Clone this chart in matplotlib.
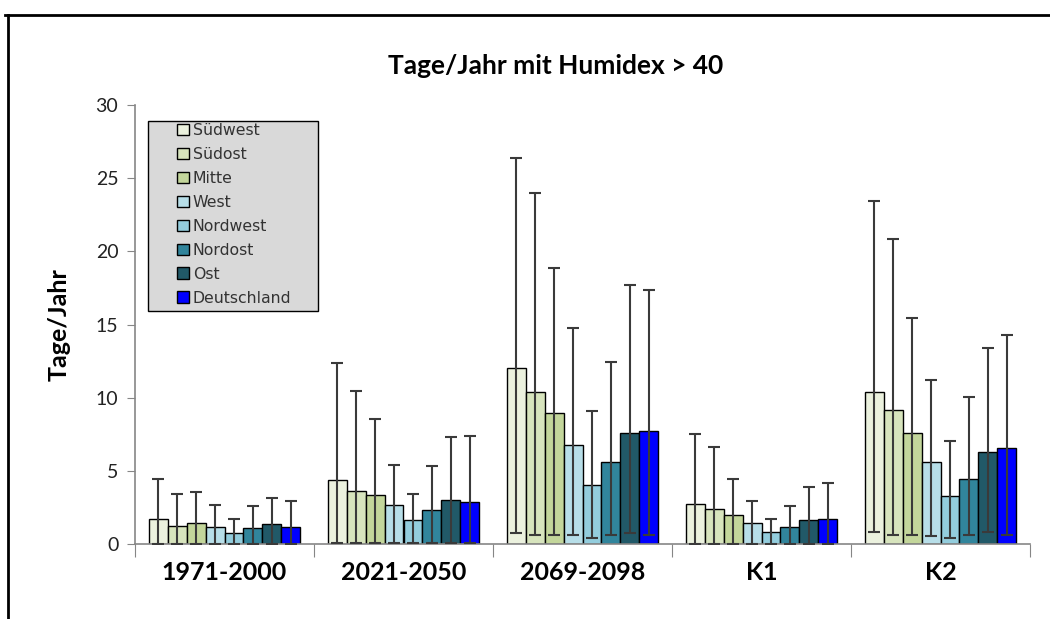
import numpy as np
import matplotlib
matplotlib.use("Agg")
import matplotlib.pyplot as plt
from matplotlib.lines import Line2D
from matplotlib.patches import Rectangle

plt.rcParams['font.family'] = ['Lato', 'DejaVu Sans']

# data
periods = ["1971-2000", "2021-2050", "2069-2098", "K1", "K2"]
regions = ["Südwest", "Südost", "Mitte", "West", "Nordwest", "Nordost", "Ost", "Deutschland"]

# mean days per year, one list per region (over periods)
suedwest = [1.69, 4.35, 12.03, 2.71, 10.41]
suedost = [1.25, 3.62, 10.39, 2.39, 9.18]
mitte = [1.41, 3.37, 8.93, 2.00, 7.61]
west = [1.18, 2.64, 6.75, 1.41, 5.58]
nordwest = [0.77, 1.64, 4.03, 0.84, 3.30]
nordost = [1.07, 2.30, 5.58, 1.16, 4.44]
ost = [1.34, 3.03, 7.61, 1.64, 6.31]
deutschland = [1.16, 2.87, 7.70, 1.73, 6.58]

# upper / lower ends of the range bars
hi_suedwest = [4.46, 12.35, 26.40, 7.54, 23.47]
hi_suedost = [3.44, 10.46, 23.97, 6.63, 20.85]
hi_mitte = [3.55, 8.52, 18.89, 4.44, 15.47]
hi_west = [2.64, 5.40, 14.79, 2.96, 11.21]
hi_nordwest = [1.73, 3.44, 9.09, 1.73, 7.06]
hi_nordost = [2.57, 5.33, 12.44, 2.57, 10.07]
hi_ost = [3.14, 7.29, 17.73, 3.87, 13.42]
hi_deutschland = [2.96, 7.38, 17.34, 4.19, 14.31]

lo_suedwest = [0.0, 0.10, 0.77, 0.0, 0.80]
lo_suedost = [0.0, 0.10, 0.59, 0.0, 0.62]
lo_mitte = [0.0, 0.10, 0.59, 0.0, 0.62]
lo_west = [0.0, 0.10, 0.59, 0.0, 0.52]
lo_nordwest = [0.0, 0.10, 0.43, 0.0, 0.43]
lo_nordost = [0.0, 0.10, 0.59, 0.0, 0.62]
lo_ost = [0.0, 0.10, 0.77, 0.0, 0.80]
lo_deutschland = [0.0, 0.10, 0.59, 0.0, 0.62]

means = [suedwest, suedost, mitte, west, nordwest, nordost, ost, deutschland]
highs = [hi_suedwest, hi_suedost, hi_mitte, hi_west, hi_nordwest, hi_nordost, hi_ost, hi_deutschland]
lows = [lo_suedwest, lo_suedost, lo_mitte, lo_west, lo_nordwest, lo_nordost, lo_ost, lo_deutschland]

colors = ["#EBF1DE", "#D7E4BD", "#C3D69B", "#B7DEE8", "#93CDDD", "#31859C", "#215968", "#0000FF"]

W, H = 1050, 619
fig = plt.figure(figsize=(W/100., H/100.), dpi=100)
ax = fig.add_axes([135./W, 1-544./H, (1030.-135.)/W, (544.-105.)/H])

x = np.arange(len(periods))
bw = 0.106
n = len(regions)
for i in range(n):
    xs = x + (i - (n-1)/2.)*bw
    m = np.array(means[i]); hi = np.array(highs[i]); lo = np.array(lows[i])
    ax.bar(xs, m, width=bw, color=colors[i], edgecolor="black", linewidth=1.0,
           label=regions[i], zorder=2)
    ax.errorbar(xs, m, yerr=[m - lo, hi - m], fmt="none", ecolor="#3a3a3a",
                elinewidth=1.5, capsize=4.3, capthick=1.5, zorder=3)

ax.set_xlim(-0.5, len(periods) - 0.5)
ax.set_ylim(0, 30)
ax.set_yticks(np.arange(0, 31, 5))
ax.tick_params(axis="y", direction="out", length=6, color="#868686", labelsize=14,
               labelcolor="#222222", pad=6)

ax.set_xticks(np.arange(len(periods)+1) - 0.5)
ax.set_xticklabels([])
ax.set_xticks(x, minor=True)
ax.set_xticklabels(periods, minor=True, fontsize=18, fontweight="bold")
ax.tick_params(axis="x", which="major", direction="out", length=9, color="#868686")
ax.tick_params(axis="x", which="minor", length=0, pad=12)

for s in ["top", "right"]:
    ax.spines[s].set_visible(False)
for s in ["left", "bottom"]:
    ax.spines[s].set_color("#868686")
    ax.spines[s].set_linewidth(1.2)

ax.set_ylabel("Tage/Jahr", fontsize=18, fontweight="bold", labelpad=18)
fig.text(556./W, 1-66./H, "Tage/Jahr mit Humidex > 40", ha="center", va="center",
         fontsize=19, fontweight="bold")

# legend box
ax.add_patch(Rectangle((148./W, 1-311./H), 170./W, 190./H, transform=fig.transFigure,
                       facecolor="#D9D9D9", edgecolor="black", linewidth=1.0, zorder=4, clip_on=False))
leg = ax.legend(loc="upper left", bbox_to_anchor=(177./W, 1-123./H), bbox_transform=fig.transFigure,
                frameon=False, prop={"family": "DejaVu Sans", "size": 11.3},
                handlelength=0.75, handleheight=0.75,
                handletextpad=0.25, labelspacing=0.57, borderpad=0, borderaxespad=0)
for t in leg.get_texts():
    t.set_color("#333333")
leg.set_zorder(5)

# outer frame
fig.add_artist(Line2D([5./W, 1.0], [1-15./H, 1-15./H], transform=fig.transFigure, color="black", linewidth=2))
fig.add_artist(Line2D([8./W, 8./W], [0.0, 1-15./H], transform=fig.transFigure, color="black", linewidth=2))

fig.savefig("out.png", dpi=100)
